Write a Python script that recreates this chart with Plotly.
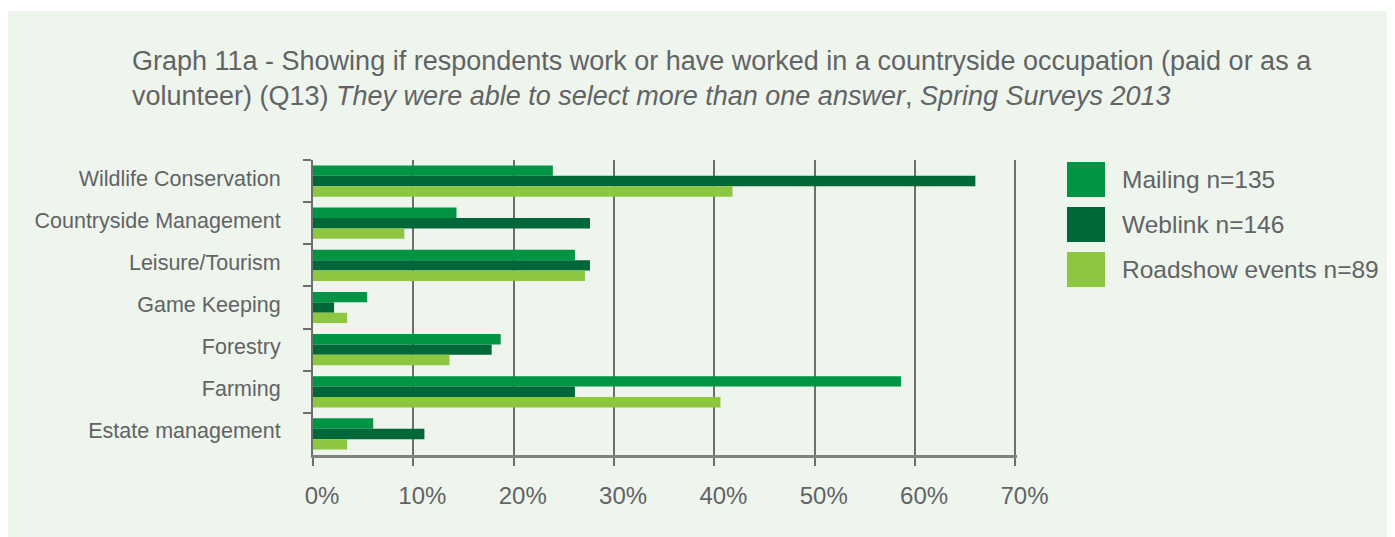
import plotly.graph_objects as go

categories = ["Wildlife Conservation", "Countryside Management", "Leisure/Tourism",
              "Game Keeping", "Forestry", "Farming", "Estate management"]
series_names = ["Mailing n=135", "Weblink n=146", "Roadshow events n=89"]
mailing = [23.9, 14.3, 26.1, 5.4, 18.7, 58.6, 6.0]
weblink = [66.0, 27.6, 27.6, 2.1, 17.8, 26.1, 11.1]
roadshow = [41.8, 9.1, 27.1, 3.4, 13.6, 40.6, 3.4]
x_ticks = [0, 10, 20, 30, 40, 50, 60, 70]
x_ticklabels = [f"{v}%" for v in x_ticks]

colors = ["#009444", "#006838", "#8DC63F"]
series_values = [mailing, weblink, roadshow]

OFF = 8  # page body margin
W, H = 1395 - OFF, 537 - OFF
# plot area in page pixel coordinates
L, R, T, B = 313, 1017, 160, 455


def px(x):
    return (x - L) / (R - L)


def py(y):
    return (B - y) / (B - T)


fig = go.Figure()
for name, vals, col in zip(series_names, series_values, colors):
    fig.add_trace(go.Bar(y=categories, x=vals, name=name, orientation="h",
                         marker=dict(color=col, line=dict(width=0)),
                         showlegend=False))

font_family = "Liberation Sans, Arial, sans-serif"
txt_col = "#626365"

shapes = [
    dict(type="rect", xref="paper", yref="paper", x0=px(0), x1=px(1400), y0=py(11), y1=py(545),
         fillcolor="#EEF5ED", line=dict(width=0), layer="below"),
]
annotations = [
    dict(xref="paper", yref="paper", x=px(130), y=py(44), xanchor="left", yanchor="top",
         align="left", showarrow=False,
         text=("Graph 11a - Showing if respondents work or have worked in a countryside occupation (paid or as a<br>"
               "volunteer) (Q13) <i>They were able to select more than one answer</i>, <i>Spring Surveys 2013</i>"),
         font=dict(family=font_family, size=27, color=txt_col)),
]
leg_centers = [179.5, 224.5, 269.5]
for name, col, cy in zip(series_names, colors, leg_centers):
    shapes.append(dict(type="rect", xref="paper", yref="paper", x0=px(1067), x1=px(1105),
                       y0=py(cy + 17.5), y1=py(cy - 17.5), fillcolor=col, line=dict(width=0)))
    annotations.append(dict(xref="paper", yref="paper", x=px(1120), y=py(cy), xanchor="left",
                            yanchor="middle", showarrow=False, text=name,
                            font=dict(family=font_family, size=24.5, color=txt_col)))

fig.update_layout(
    width=W, height=H,
    margin=dict(l=L - OFF, r=W - (R - OFF), t=T - OFF, b=H - (B - OFF), pad=0),
    paper_bgcolor="white",
    plot_bgcolor="rgba(0,0,0,0)",
    barmode="group", bargap=0.26, bargroupgap=0,
    shapes=shapes, annotations=annotations,
    font=dict(family=font_family, color=txt_col),
    xaxis=dict(range=[0, 70.15], tickvals=x_ticks, ticktext=x_ticklabels,
               showgrid=True, gridcolor="#6e6e6e", gridwidth=1.5,
               showline=True, linecolor="#818181", linewidth=2.5,
               ticks="outside", ticklen=8, tickwidth=1.5, tickcolor="#6e6e6e",
               tickfont=dict(size=24, color=txt_col), ticklabelstandoff=9,
               ticklabelshift=9, zeroline=False, fixedrange=True),
    yaxis=dict(autorange="reversed", showline=True, linecolor="#6e6e6e", linewidth=2,
               ticks="outside", ticklen=8, tickwidth=1.5, tickcolor="#6e6e6e",
               tickson="boundaries", showgrid=False,
               tickfont=dict(size=21.5, color=txt_col), ticklabelstandoff=26,
               ticklabelshift=3, fixedrange=True),
)

fig.write_html("out.html")
